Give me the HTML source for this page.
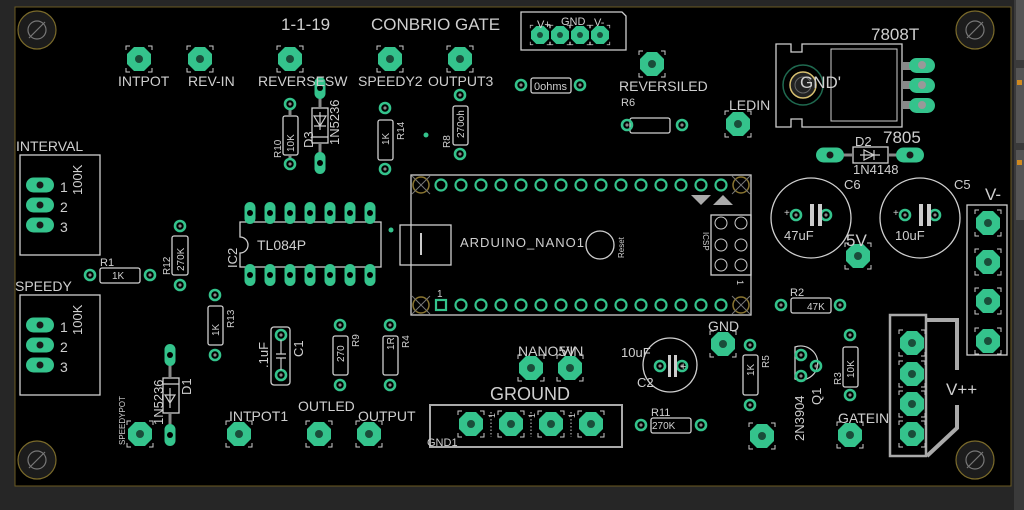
<!DOCTYPE html>
<html><head><meta charset="utf-8"><style>
html,body{margin:0;padding:0;background:#252525;}
svg{display:block}
text{font-family:"Liberation Sans",sans-serif;fill:#cfcfcf}
</style></head><body>
<svg width="1024" height="510" viewBox="0 0 1024 510" xmlns="http://www.w3.org/2000/svg">
<defs>
<g id="big">
 <polygon points="-5,-12 5,-12 12,-5 12,5 5,12 -5,12 -12,5 -12,-5" fill="#34c38c"/>
 <circle r="4" fill="#1a4d3a"/>
 <path d="M-13,-9v-4h4M9,-13h4v4M13,9v4h-4M-9,13h-4v-4" stroke="#ccc" stroke-width="1" fill="none"/>
</g>
<g id="sp"><circle r="5" fill="none" stroke="#34c38c" stroke-width="2.6"/><circle r="1.6" fill="#888"/></g>
<g id="ring"><circle r="5.5" fill="none" stroke="#34c38c" stroke-width="2.2"/></g>
<g id="ovh"><rect x="-14" y="-7.5" width="28" height="15" rx="7.5" fill="#34c38c"/><circle r="3.5" fill="#1a1a1a"/></g>
<g id="ovv"><rect x="-5.5" y="-11" width="11" height="22" rx="5.5" fill="#34c38c"/><circle r="3" fill="#000"/></g>
<g id="mnt"><circle r="19" fill="#1c1c1c" stroke="#7a6a2a" stroke-width="1.2"/><circle r="9" fill="none" stroke="#777" stroke-width="1.2"/><line x1="-8" y1="8" x2="8" y2="-8" stroke="#777" stroke-width="1.2"/></g>
<g id="amnt"><circle r="8" fill="none" stroke="#8a7530" stroke-width="1.5"/><line x1="-9" y1="9" x2="9" y2="-9" stroke="#777"/><line x1="-9" y1="-9" x2="9" y2="9" stroke="#777"/></g>
</defs>
<rect x="0" y="0" width="1024" height="510" fill="#262626"/>
<rect x="15" y="7" width="996" height="479" fill="#000" stroke="#6b5a22" stroke-width="1"/>
<rect x="1014" y="0" width="10" height="510" fill="#3a3a3a"/>
<rect x="1016" y="0" width="8" height="60" fill="#555"/>
<rect x="1016" y="68" width="8" height="75" fill="#555"/>
<rect x="1016" y="150" width="8" height="70" fill="#555"/>
<rect x="1017" y="80" width="5" height="5" fill="#d08a20"/>
<rect x="1017" y="160" width="5" height="5" fill="#d08a20"/>

<use href="#mnt" x="37" y="30"/><use href="#mnt" x="975" y="30"/>
<use href="#mnt" x="37" y="460"/><use href="#mnt" x="975" y="460"/>

<g fill="none" stroke="#cfcfcf" stroke-width="1.3">
 <path d="M521,12 H622 L626,16 V50 H521 Z"/>
 <rect x="20" y="155" width="80" height="100"/>
 <rect x="20" y="295" width="80" height="100"/>
 <rect x="283" y="116" width="15" height="39" rx="2"/>
 <rect x="312" y="108" width="16" height="35"/>
 <line x1="312" y1="137" x2="328" y2="137"/>
 <rect x="378" y="120" width="15" height="40" rx="2"/>
 <rect x="453" y="106" width="15" height="39" rx="2"/>
 <rect x="531" y="78" width="40" height="15" rx="2"/>
 <rect x="630" y="118" width="40" height="15" rx="2"/>
 <rect x="100" y="268" width="40" height="15" rx="2"/>
 <rect x="172" y="236" width="16" height="39" rx="2"/>
 <rect x="208" y="306" width="15" height="39" rx="2"/>
 <rect x="271" y="327" width="19" height="58" rx="3"/>
 <rect x="333" y="336" width="15" height="39" rx="2"/>
 <rect x="383" y="336" width="15" height="39" rx="2"/>
 <rect x="163" y="378" width="16" height="35"/>
 <line x1="163" y1="384" x2="179" y2="384"/>
 <rect x="743" y="355" width="15" height="40" rx="2"/>
 <rect x="843" y="347" width="15" height="40" rx="2"/>
 <rect x="651" y="418" width="40" height="15" rx="2"/>
 <rect x="791" y="298" width="40" height="15" rx="2"/>
 <rect x="853" y="147" width="35" height="16"/>
 <path d="M240,222 H381 V267 H240 V253 A8,8 0 0 0 240,237 Z"/>
 <rect x="411" y="175" width="340" height="140"/>
 <rect x="400" y="225" width="51" height="40"/>
 <circle cx="600" cy="245" r="14"/>
 <rect x="711" y="215" width="40" height="60"/>
 <circle cx="811" cy="218" r="40"/>
 <circle cx="920" cy="218" r="40"/>
 <circle cx="670" cy="365" r="27"/>
 <path d="M795,347 A17,17 0 1 1 795,379 Z"/>
 <path d="M776,44 H791 V52 H802 V44 H902 V127 H802 V119 H791 V127 H776 Z"/>
 <rect x="831" y="49" width="66" height="72" stroke-width="1"/>
 <rect x="967" y="205" width="40" height="150"/>
 <rect x="430" y="405" width="192" height="42" stroke-width="2" stroke="#aaa"/>
 <rect x="890" y="315" width="36" height="141" stroke-width="2.5" stroke="#aaa"/>
 <path d="M927,320 H957 V370 M957,405 V428 L927,456" stroke-width="4" stroke="#aaa"/>
 <path d="M491,412 V437 M531,412 V437 M571,412 V437" stroke-dasharray="1.5,2" stroke-width="1"/>
</g>
<g fill="#888"><rect x="902" y="62" width="14" height="8"/><rect x="902" y="81" width="14" height="8"/><rect x="902" y="101" width="14" height="8"/></g>
<g><rect x="909" y="58" width="26" height="15" rx="7.5" fill="#34c38c"/><rect x="909" y="78" width="26" height="15" rx="7.5" fill="#34c38c"/><rect x="909" y="98" width="26" height="15" rx="7.5" fill="#34c38c"/>
<circle cx="922" cy="65" r="4" fill="#999"/><circle cx="922" cy="85" r="4" fill="#999"/><circle cx="922" cy="105" r="4" fill="#999"/></g>
<circle cx="803" cy="85" r="20" fill="none" stroke="#1f6a50" stroke-width="1.5"/>
<circle cx="803" cy="85" r="13" fill="#222" stroke="#d8c070" stroke-width="1.5"/>
<circle cx="803" cy="85" r="8" fill="none" stroke="#666"/>

<g stroke="#888" stroke-width="3">
 <line x1="290" y1="108" x2="290" y2="116"/><line x1="290" y1="155" x2="290" y2="160"/>
 <line x1="320" y1="95" x2="320" y2="108"/><line x1="320" y1="143" x2="320" y2="156"/>
 <line x1="170" y1="362" x2="170" y2="378"/><line x1="170" y1="413" x2="170" y2="428"/>
 <line x1="838" y1="155" x2="853" y2="155"/><line x1="888" y1="155" x2="903" y2="155"/>
</g>

<g>
<use href="#big" x="139" y="59"/><use href="#big" x="200" y="59"/><use href="#big" x="290" y="59"/>
<use href="#big" x="390" y="59"/><use href="#big" x="460" y="59"/><use href="#big" x="652" y="64"/>
<use href="#big" x="738" y="124"/><use href="#big" x="858" y="256"/>
<use href="#big" x="531" y="368"/><use href="#big" x="570" y="368"/><use href="#big" x="723" y="344"/>
<use href="#big" x="762" y="436"/><use href="#big" x="850" y="435"/>
<use href="#big" x="140" y="434"/><use href="#big" x="239" y="434"/><use href="#big" x="319" y="434"/><use href="#big" x="369" y="434"/>
<use href="#big" x="471" y="424"/><use href="#big" x="511" y="424"/><use href="#big" x="551" y="424"/><use href="#big" x="591" y="424"/>
<use href="#big" x="988" y="223"/><use href="#big" x="988" y="262"/><use href="#big" x="988" y="301"/><use href="#big" x="988" y="341"/>
<use href="#big" x="912" y="343"/><use href="#big" x="912" y="374"/><use href="#big" x="912" y="404"/><use href="#big" x="912" y="434"/>
</g>
<g transform="translate(540,35) scale(.75)"><use href="#big"/></g>
<g transform="translate(560,35) scale(.75)"><use href="#big"/></g>
<g transform="translate(580,35) scale(.75)"><use href="#big"/></g>
<g transform="translate(600,35) scale(.75)"><use href="#big"/></g>

<g>
<use href="#sp" x="290" y="104"/><use href="#sp" x="290" y="164"/>
<use href="#sp" x="385" y="108"/><use href="#sp" x="385" y="169"/>
<use href="#sp" x="460" y="95"/><use href="#sp" x="460" y="154"/>
<use href="#sp" x="521" y="85"/><use href="#sp" x="580" y="85"/>
<use href="#sp" x="627" y="125"/><use href="#sp" x="682" y="125"/>
<use href="#sp" x="90" y="275"/><use href="#sp" x="150" y="275"/>
<use href="#sp" x="180" y="226"/><use href="#sp" x="180" y="285"/>
<use href="#sp" x="215" y="295"/><use href="#sp" x="215" y="355"/>
<use href="#sp" x="281" y="335"/><use href="#sp" x="281" y="375"/>
<use href="#sp" x="340" y="325"/><use href="#sp" x="340" y="385"/>
<use href="#sp" x="390" y="325"/><use href="#sp" x="390" y="385"/>
<use href="#sp" x="660" y="366"/><use href="#sp" x="682" y="366"/>
<use href="#sp" x="750" y="345"/><use href="#sp" x="750" y="405"/>
<use href="#sp" x="850" y="335"/><use href="#sp" x="850" y="395"/>
<use href="#sp" x="641" y="425"/><use href="#sp" x="701" y="425"/>
<use href="#sp" x="781" y="305"/><use href="#sp" x="840" y="305"/>
<use href="#sp" x="801" y="355"/><use href="#sp" x="816" y="366"/><use href="#sp" x="801" y="376"/>
<use href="#sp" x="796" y="215"/><use href="#sp" x="826" y="215"/>
<use href="#sp" x="905" y="215"/><use href="#sp" x="935" y="215"/>
</g>
<circle cx="426" cy="135" r="2.5" fill="#34c38c"/><circle cx="391" cy="230" r="2.5" fill="#34c38c"/>
<g fill="#ccc"><rect x="810" y="204" width="4" height="22"/><rect x="818" y="204" width="4" height="22"/><rect x="919" y="204" width="4" height="22"/><rect x="927" y="204" width="4" height="22"/><rect x="668" y="355" width="3" height="22"/><rect x="674" y="355" width="3" height="22"/></g>

<use href="#ovv" x="320" y="88"/><use href="#ovv" x="320" y="163"/>
<use href="#ovv" x="170" y="355"/><use href="#ovv" x="170" y="435"/>
<use href="#ovh" x="40" y="185"/><use href="#ovh" x="40" y="205"/><use href="#ovh" x="40" y="225"/>
<use href="#ovh" x="40" y="325"/><use href="#ovh" x="40" y="345"/><use href="#ovh" x="40" y="365"/>
<use href="#ovh" x="830" y="155"/><use href="#ovh" x="910" y="155"/>
<g>
<use href="#ovv" x="250" y="213"/><use href="#ovv" x="270" y="213"/><use href="#ovv" x="290" y="213"/><use href="#ovv" x="310" y="213"/><use href="#ovv" x="330" y="213"/><use href="#ovv" x="350" y="213"/><use href="#ovv" x="370" y="213"/>
<use href="#ovv" x="250" y="275"/><use href="#ovv" x="270" y="275"/><use href="#ovv" x="290" y="275"/><use href="#ovv" x="310" y="275"/><use href="#ovv" x="330" y="275"/><use href="#ovv" x="350" y="275"/><use href="#ovv" x="370" y="275"/>
</g>
<g>
<use href="#ring" x="441" y="185"/><use href="#ring" x="461" y="185"/><use href="#ring" x="481" y="185"/><use href="#ring" x="501" y="185"/><use href="#ring" x="521" y="185"/><use href="#ring" x="541" y="185"/><use href="#ring" x="561" y="185"/><use href="#ring" x="581" y="185"/><use href="#ring" x="601" y="185"/><use href="#ring" x="621" y="185"/><use href="#ring" x="641" y="185"/><use href="#ring" x="661" y="185"/><use href="#ring" x="681" y="185"/><use href="#ring" x="701" y="185"/><use href="#ring" x="721" y="185"/>
<rect x="436" y="300" width="10" height="10" fill="none" stroke="#34c38c" stroke-width="2.2"/>
<use href="#ring" x="461" y="305"/><use href="#ring" x="481" y="305"/><use href="#ring" x="501" y="305"/><use href="#ring" x="521" y="305"/><use href="#ring" x="541" y="305"/><use href="#ring" x="561" y="305"/><use href="#ring" x="581" y="305"/><use href="#ring" x="601" y="305"/><use href="#ring" x="621" y="305"/><use href="#ring" x="641" y="305"/><use href="#ring" x="661" y="305"/><use href="#ring" x="681" y="305"/><use href="#ring" x="701" y="305"/><use href="#ring" x="721" y="305"/>
<use href="#amnt" x="421" y="185"/><use href="#amnt" x="741" y="185"/><use href="#amnt" x="421" y="305"/><use href="#amnt" x="741" y="305"/>
</g>
<g fill="none" stroke="#ccc"><circle cx="721" cy="223" r="6"/><circle cx="741" cy="223" r="6"/><circle cx="721" cy="245" r="6"/><circle cx="741" cy="245" r="6"/><circle cx="721" cy="265" r="6"/><circle cx="741" cy="265" r="6"/></g>
<polygon points="691,195 711,195 701,205" fill="#aaa"/><polygon points="713,205 733,205 723,195" fill="#aaa"/>
<rect x="420" y="233" width="2" height="22" fill="#ccc"/>
<g stroke="#ccc" fill="none" stroke-width="1.2"><path d="M314,116 H326 L320,126 Z M314,126 H326 M320,112 V130"/>
<path d="M165,395 H175 L170,403 Z M165,395 H175 M170,388 V408"/>
<path d="M864,150 V160 L874,155 Z M874,150 V160 M860,155 H880"/>
<path d="M276,354 H286 M276,358 H286 M281,340 V354 M281,358 V370"/></g>

<g font-size="14">
<text x="281" y="30" font-size="17">1-1-19</text>
<text x="371" y="30" font-size="17">CONBRIO GATE</text>
<text x="118" y="86">INTPOT</text><text x="188" y="86">REV-IN</text>
<text x="258" y="86">REVERSESW</text><text x="358" y="86">SPEEDY2</text><text x="428" y="86">OUTPUT3</text>
<text x="619" y="91">REVERSILED</text><text x="729" y="110">LEDIN</text>
<text x="16" y="151">INTERVAL</text><text x="15" y="291">SPEEDY</text>
<text x="229" y="421">INTPOT1</text><text x="298" y="411">OUTLED</text><text x="358" y="421">OUTPUT</text>
<text x="518" y="356">NANO5V</text><text x="560" y="356">VIN</text>
<text x="708" y="331">GND</text><text x="838" y="423">GATEIN</text>
<text x="871" y="40" font-size="17">7808T</text><text x="883" y="143" font-size="17">7805</text>
<text x="800" y="88" font-size="17">GND'</text>
<text x="846" y="246" font-size="17">5V</text>
<text x="985" y="200" font-size="17">V-</text>
<text x="946" y="395" font-size="17">V++</text>
<text x="490" y="400" font-size="18">GROUND</text>
<text x="427" y="446" font-size="11">GND1</text>
<text x="621" y="106" font-size="11">R6</text><text x="100" y="266" font-size="11">R1</text>
<text x="790" y="296" font-size="11">R2</text><text x="651" y="416" font-size="11">R11</text>
<text x="855" y="146" font-size="13">D2</text><text x="853" y="174" font-size="13">1N4148</text>
<text x="844" y="189" font-size="13">C6</text><text x="954" y="189" font-size="13">C5</text>
<text x="784" y="240" font-size="13">47uF</text><text x="895" y="240" font-size="13">10uF</text>
<text x="621" y="357" font-size="13">10uF</text><text x="637" y="387" font-size="13">C2</text>
<text x="534" y="90" font-size="11">0ohms</text>
<text x="112" y="279" font-size="10">1K</text>
<text x="652" y="429" font-size="10">270K</text><text x="807" y="310" font-size="10">47K</text>
<text x="460" y="247" font-size="13" style="letter-spacing:1px">ARDUINO_NANO1</text>
<text x="257" y="250" font-size="14">TL084P</text>
<text x="437" y="297" font-size="10">1</text>
<text x="60" y="192">1</text><text x="60" y="212">2</text><text x="60" y="232">3</text>
<text x="60" y="332">1</text><text x="60" y="352">2</text><text x="60" y="372">3</text>
<text x="680" y="370" font-size="11">+</text>
<text x="784" y="216" font-size="10">+</text><text x="893" y="216" font-size="10">+</text>
</g>
<g font-size="11">
<text transform="translate(82,195) rotate(-90)" font-size="13">100K</text>
<text transform="translate(82,335) rotate(-90)" font-size="13">100K</text>
<text transform="translate(294,152) rotate(-90)" font-size="10">10K</text>
<text transform="translate(281,158) rotate(-90)" font-size="10">R10</text>
<text transform="translate(313,148) rotate(-90)" font-size="13">D3</text>
<text transform="translate(339,145) rotate(-90)" font-size="13">1N5236</text>
<text transform="translate(389,145) rotate(-90)" font-size="10">1K</text>
<text transform="translate(404,140) rotate(-90)" font-size="10">R14</text>
<text transform="translate(464,138) rotate(-90)" font-size="10">270oh</text>
<text transform="translate(450,148) rotate(-90)" font-size="10">R8</text>
<text transform="translate(184,271) rotate(-90)" font-size="10">270K</text>
<text transform="translate(170,275) rotate(-90)" font-size="10">R12</text>
<text transform="translate(237,268) rotate(-90)" font-size="13">IC2</text>
<text transform="translate(219,336) rotate(-90)" font-size="10">1K</text>
<text transform="translate(234,328) rotate(-90)" font-size="10">R13</text>
<text transform="translate(268,368) rotate(-90)" font-size="13">.1uF</text>
<text transform="translate(303,357) rotate(-90)" font-size="13">C1</text>
<text transform="translate(344,362) rotate(-90)" font-size="10">270</text>
<text transform="translate(359,347) rotate(-90)" font-size="10">R9</text>
<text transform="translate(394,350) rotate(-90)" font-size="10">1R</text>
<text transform="translate(409,348) rotate(-90)" font-size="10">R4</text>
<text transform="translate(163,425) rotate(-90)" font-size="13">1N5236</text>
<text transform="translate(191,395) rotate(-90)" font-size="13">D1</text>
<text transform="translate(125,445) rotate(-90)" font-size="8">SPEEDYPOT</text>
<text transform="translate(754,376) rotate(-90)" font-size="10">1K</text>
<text transform="translate(769,368) rotate(-90)" font-size="10">R5</text>
<text transform="translate(854,378) rotate(-90)" font-size="10">10K</text>
<text transform="translate(841,385) rotate(-90)" font-size="10">R3</text>
<text transform="translate(804,441) rotate(-90)" font-size="13">2N3904</text>
<text transform="translate(821,405) rotate(-90)" font-size="13">Q1</text>
<text transform="translate(624,258) rotate(-90)" font-size="8">Reset</text>
<text transform="translate(703,232) rotate(90)" font-size="8">ICSP</text>
<text transform="translate(737,280) rotate(90)" font-size="9">1</text>
<text transform="translate(495,418) rotate(-90)" font-size="9">1</text>
<text transform="translate(535,418) rotate(-90)" font-size="9">1</text>
<text transform="translate(575,418) rotate(-90)" font-size="9">1</text>
</g>
<g font-size="11"><text x="537" y="28">V+</text><text x="561" y="25">GND</text><text x="594" y="26">V-</text></g>
</svg>
</body></html>
